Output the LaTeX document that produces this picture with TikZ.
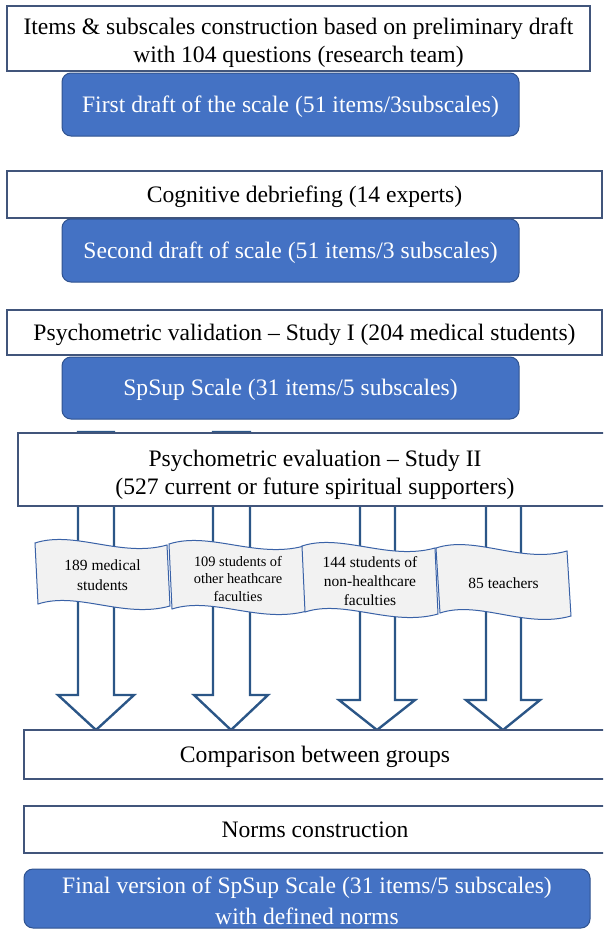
\documentclass[tikz,border=0pt]{standalone}
\usepackage{fontspec}
\setmainfont{Liberation Serif}
\definecolor{boxblue}{HTML}{4472C4}
\definecolor{blueedge}{HTML}{2F528F}
\definecolor{whiteedge}{HTML}{41557B}
\definecolor{arrowedge}{HTML}{2B5687}
\definecolor{bannerfill}{HTML}{F2F2F2}
\definecolor{banneredge}{HTML}{3A62A7}
\tikzset{
  whitebox/.style={draw=whiteedge, line width=1.2pt, fill=white, inner sep=0pt, align=center,
    font=\fontsize{23.6}{28.5}\selectfont},
  bluebox/.style={draw=blueedge, line width=1pt, fill=boxblue, rounded corners=9pt, inner sep=0pt, align=center, text=white,
    font=\fontsize{23.6}{31}\selectfont},
  oneline/.style={text height=16.5pt, text depth=1pt},
  blockarrow/.style={draw=arrowedge, line width=2.4pt, fill=white, line join=miter},
  bannershape/.style={draw=banneredge, line width=1pt, fill=bannerfill},
  bannertext/.style={inner sep=0pt, align=center}
}
% #1 name, #2 L, #3 R, #4 T, #5 B, #6 slant, #7 tilt, #8 font size/leading, #9 text
\newcommand\wavebanner[9]{%
  \path[bannershape] (#2,#4) .. controls ({#2+0.3*(#3-#2)},{#4-13}) and ({#2+0.65*(#3-#2)},{#4+#7+13}) .. (#3,{#4+#7})
    -- ({#3+#6},{#5+#7}) .. controls ({#2+#6+0.65*(#3-#2)},{#5+#7+13}) and ({#2+#6+0.3*(#3-#2)},{#5-13}) .. ({#2+#6},#5) -- cycle;
  \node[bannertext, font=#8] (#1) at ({(#2+#3+#6)/2},{(#4+#5+#7)/2+1}) {#9};
}
% #1 shaft left, #2 shaft right, #3 top, #4 shoulder, #5 head left, #6 head right, #7 tip y
\newcommand\blockarr[7]{%
  \path[blockarrow] (#1,#3) -- (#2,#3) -- (#2,#4) -- (#6,#4) -- ({(#5+#6)/2},#7) -- (#5,#4) -- (#1,#4) -- cycle;
}
\begin{document}
\begin{tikzpicture}[x=1pt,y=-1pt]
\useasboundingbox (0,0) rectangle (603,929);
\clip (0,0) rectangle (603,929);

\node[whitebox, text height=49pt, text depth=1pt, minimum width=583pt, minimum height=65pt] (b1) at (298.5,38.5)
  {Items \& subscales construction based on preliminary draft\\with 104 questions (research team)};
\node[bluebox, oneline, minimum width=457pt, minimum height=63pt] (u1) at (290.5,104.5)
  {First draft of the scale (51 items/3subscales)};

\node[whitebox, oneline, minimum width=595pt, minimum height=47pt] (b2) at (304.5,194.5)
  {Cognitive debriefing (14 experts)};
\node[bluebox, oneline, minimum width=457pt, minimum height=63pt] (u2) at (290.5,250.5)
  {Second draft of scale (51 items/3 subscales)};

\node[whitebox, oneline, minimum width=595pt, minimum height=45pt] (b3) at (304.5,332.5)
  {Psychometric validation -- Study I (204 medical students)};
\node[bluebox, oneline, minimum width=457pt, minimum height=62pt] (u3) at (290.5,388)
  {SpSup Scale (31 items/5 subscales)};

% block arrows
\blockarr{78}{114}{432}{695}{58}{134}{730}
\blockarr{213}{250}{432}{695}{194}{268}{730}
\blockarr{360}{395}{440}{700}{339}{415}{730}
\blockarr{486}{521}{440}{700}{466}{540}{730}

\node[whitebox, text height=51pt, text depth=1pt, minimum width=594pt, minimum height=73pt] (s2) at (315,469.5)
  {Psychometric evaluation -- Study II\\(527 current or future spiritual supporters)};

\wavebanner{g1}{35}{167}{543}{604}{3}{2}{\fontsize{15.5}{20}\selectfont}{189 medical\\students}
\wavebanner{g2}{169}{304}{544}{609}{3}{2}{\fontsize{14.4}{17.5}\selectfont}{109 students of\\other heathcare\\faculties}
\wavebanner{g3}{302}{435}{546}{612}{3}{2}{\fontsize{15.5}{19}\selectfont}{144 students of\\non-healthcare\\faculties}
\wavebanner{g4}{436}{567}{548}{613}{4}{3}{\fontsize{15.5}{19}\selectfont}{85 teachers}

\node[whitebox, oneline, minimum width=582pt, minimum height=49pt] (cmp) at (315,754.5)
  {Comparison between groups};
\node[whitebox, oneline, minimum width=582pt, minimum height=47pt] (nrm) at (315,829.5)
  {Norms construction};
\node[bluebox, text height=53pt, text depth=1pt, minimum width=566pt, minimum height=59pt] (fin) at (307,898.5)
  {Final version of SpSup Scale (31 items/5 subscales)\\with defined norms};
\end{tikzpicture}
\end{document}
